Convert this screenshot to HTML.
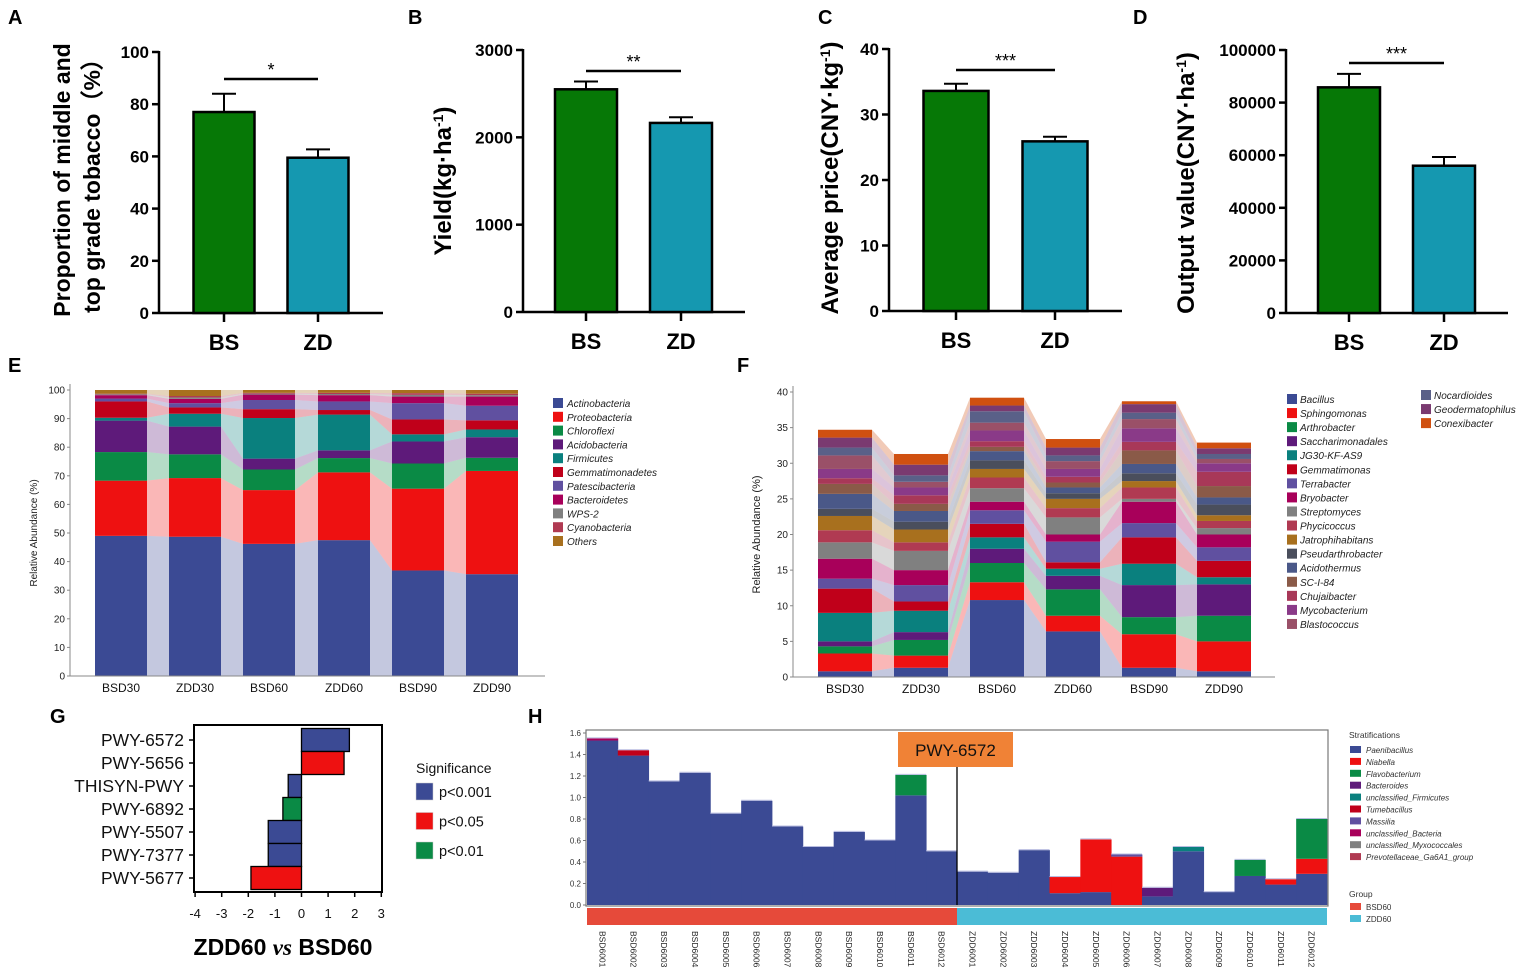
<!DOCTYPE html>
<html><head><meta charset="utf-8">
<style>
html,body{margin:0;padding:0;background:#fff;}
svg{display:block;font-family:"Liberation Sans",Arial,sans-serif;}
</style></head>
<body>
<svg id="fig" width="1535" height="974" viewBox="0 0 1535 974" xmlns="http://www.w3.org/2000/svg"></svg>
<script>
// ---------- data: panels A-D ----------
const groupsAD = ["BS","ZD"];
const valsA = [77, 59.5];   const errA = [84, 62.7];
const valsB = [2550, 2165]; const errB = [2640, 2230];
const valsC = [33.6, 25.9]; const errC = [34.7, 26.6];
const valsD = [85800, 56000]; const errD = [90900, 59300];
const ticksA = [0,20,40,60,80,100];
const ticksB = [0,1000,2000,3000];
const ticksC = [0,10,20,30,40];
const ticksD = [0,20000,40000,60000,80000,100000];
const sigA = "*", sigB = "**", sigC = "***", sigD = "***";

// ---------- data: panel E ----------
const samplesE = ["BSD30","ZDD30","BSD60","ZDD60","BSD90","ZDD90"];
const phylaE = ["Actinobacteria","Proteobacteria","Chloroflexi","Acidobacteria","Firmicutes","Gemmatimonadetes","Patescibacteria","Bacteroidetes","WPS-2","Cyanobacteria","Others"];
const ticksE = [0,10,20,30,40,50,60,70,80,90,100];
const eBSD30 = [49,19.3,10,11,1,5.7,1,1.2,0.3,0.2,1.3];
const eZDD30 = [48.7,20.5,8.3,9.7,4.5,2.2,1.5,1.5,0.5,0.5,2.1];
const eBSD60 = [46.2,18.8,7.2,3.8,14.2,3.1,3.2,1.9,0.3,0.3,1.0];
const eZDD60 = [47.5,23.7,5,2.7,12.5,1.6,3,2.2,0.4,0.4,1.0];
const eBSD90 = [36.9,28.6,8.8,7.7,2.5,5.2,5.7,2.3,0.6,0.6,1.1];
const eZDD90 = [35.6,36.1,4.6,7.2,2.7,3.2,5.1,3.2,0.5,0.5,1.3];

// ---------- data: panel F (cumulative tops per genus) ----------
const samplesF = samplesE;
const generaF = ["Bacillus","Sphingomonas","Arthrobacter","Saccharimonadales","JG30-KF-AS9","Gemmatimonas","Terrabacter","Bryobacter","Streptomyces","Phycicoccus","Jatrophihabitans","Pseudarthrobacter","Acidothermus","SC-I-84","Chujaibacter","Mycobacterium","Blastococcus","Nocardioides","Geodermatophilus","Conexibacter"];
const ticksF = [0,5,10,15,20,25,30,35,40];
const fBSD30 = [0.8,3.3,4.3,5.0,9.0,12.4,13.8,16.6,18.9,20.6,22.6,23.6,25.7,27.1,27.9,29.2,31.1,32.2,33.6,34.7];
const fZDD30 = [1.3,3.0,5.2,6.3,9.3,10.6,12.9,15.0,17.7,18.9,20.7,21.8,23.3,24.3,25.5,26.6,27.4,28.3,29.8,31.3];
const fBSD60 = [10.8,13.3,16.0,18.0,19.6,21.5,23.4,24.6,26.5,28.0,29.2,30.4,31.7,32.3,33.1,34.6,35.7,37.3,38.1,39.2];
const fZDD60 = [6.4,8.6,12.3,14.2,15.2,16.1,19.0,20.0,22.4,23.7,25.0,25.8,26.6,27.3,28.1,29.2,30.3,31.1,32.2,33.4];
const fBSD90 = [1.3,6.0,8.4,12.9,15.9,19.6,21.6,24.6,25.0,26.6,27.5,28.6,29.9,31.8,33.0,34.9,36.2,37.1,38.3,38.7];
const fZDD90 = [0.8,5.0,8.6,13.0,14.0,16.3,18.2,20.0,20.9,21.9,22.7,24.2,25.2,26.8,28.8,30.0,30.6,31.3,32.1,32.9];

// ---------- data: panel G ----------
const pathwaysG = ["PWY-6572","PWY-5656","THISYN-PWY","PWY-6892","PWY-5507","PWY-7377","PWY-5677"];
const valuesG = [1.8,1.6,-0.5,-0.7,-1.25,-1.25,-1.9];
const sigG = ["p<0.001","p<0.05","p<0.001","p<0.01","p<0.001","p<0.001","p<0.05"];
const ticksG = [-4,-3,-2,-1,0,1,2,3];
const sigLevels = ["p<0.001","p<0.05","p<0.01"];

// ---------- data: panel H ----------
const samplesH = ["BSD6001","BSD6002","BSD6003","BSD6004","BSD6005","BSD6006","BSD6007","BSD6008","BSD6009","BSD6010","BSD6011","BSD6012","ZDD6001","ZDD6002","ZDD6003","ZDD6004","ZDD6005","ZDD6006","ZDD6007","ZDD6008","ZDD6009","ZDD6010","ZDD6011","ZDD6012"];
const stratH = ["Paenibacillus","Niabella","Flavobacterium","Bacteroides","unclassified_Firmicutes","Tumebacillus","Massilia","unclassified_Bacteria","unclassified_Myxococcales","Prevotellaceae_Ga6A1_group"];
const hPaenibacillus = [1.53,1.39,1.15,1.23,0.85,0.97,0.73,0.54,0.68,0.60,1.02,0.50,0.31,0.30,0.51,0.11,0.12,0,0.08,0.50,0.12,0.27,0.19,0.29];
const hNiabella      = [0,0,0,0,0,0,0,0,0,0,0,0,0,0,0,0.15,0.49,0.45,0,0,0,0,0.05,0.14];
const hFlavobacterium= [0,0,0,0,0,0,0,0,0,0,0.19,0,0,0,0,0,0,0,0,0,0,0.15,0,0.37];
const hBacteroides   = [0,0,0,0,0,0,0,0,0,0,0,0,0,0,0,0,0,0,0.08,0,0,0,0,0];
const hUnclFirmicutes= [0,0,0,0,0,0,0,0,0,0,0,0,0,0,0,0,0,0,0,0.04,0,0,0,0];
const hTumebacillus  = [0,0.05,0,0,0,0,0,0,0,0,0,0,0,0,0,0,0,0,0,0,0,0,0,0];
const hMassilia      = [0,0,0,0,0,0,0,0,0,0,0,0,0,0,0,0,0,0.02,0,0,0,0,0,0];
const hUnclBacteria  = [0.02,0,0,0,0,0,0,0,0,0,0,0,0,0,0,0,0,0,0,0,0,0,0,0];
const ticksH = [0,0.2,0.4,0.6,0.8,1.0,1.2,1.4,1.6];

const PAL = ["#3b4a94","#ee1111","#0a8a45","#5e1a7a","#0a807e","#c0001a","#6050a0","#a8005a","#808080","#b03a52","#a8701e","#4a4e5c","#4a5888","#8a5a48","#a83858","#8a3a88","#9a5068","#5a6088","#7a3a70","#d05010"];
const PAL_E = ["#3b4a94","#ee1111","#0a8a45","#5e1a7a","#0a807e","#c0001a","#6050a0","#a8005a","#808080","#b03a52","#a8701e"];
const SIGCOL = {"p<0.001":"#3b4a94","p<0.05":"#ee1111","p<0.01":"#0a8a45"};

const NS="http://www.w3.org/2000/svg";
const fig=document.getElementById('fig');
function mk(tag,attrs,parent,text){const e=document.createElementNS(NS,tag);for(const k in attrs)e.setAttribute(k,attrs[k]);if(text!==undefined)e.textContent=text;(parent||fig).appendChild(e);return e;}
function grp(name){const g=mk('g',{});


return g;}

// panel letters
[["A",8,24],["B",408,24],["C",818,24],["D",1133,24],["E",8,372],["F",737,372],["G",50,723],["H",528,723]].forEach(l=>{
 const t=mk('text',{x:l[1],y:l[2],'font-size':20,'font-weight':'bold',fill:'#000'},fig,l[0]);
 
 
});

// ---------- A-D bar panels ----------
function barPanel(cfg){
 const g=grp(cfg.name);
 const y=v=>cfg.y0-(v/cfg.max)*(cfg.y0-cfg.yTop);
 mk('line',{x1:cfg.ax,y1:cfg.yTop-1,x2:cfg.ax,y2:cfg.y0,stroke:'#000','stroke-width':2.5},g);
 mk('line',{x1:cfg.ax,y1:cfg.y0,x2:cfg.axEnd,y2:cfg.y0,stroke:'#000','stroke-width':2.5},g);
 cfg.ticks.forEach(t=>{
  mk('line',{x1:cfg.ax-7,y1:y(t),x2:cfg.ax,y2:y(t),stroke:'#000','stroke-width':2.5},g);
  const tl=mk('text',{x:cfg.ax-10,y:y(t)+6,'text-anchor':'end','font-size':17,'font-weight':'bold'},g,String(t));
  
  
 });
 const cols=["#067806","#1598b0"];
 cfg.vals.forEach((v,i)=>{
  const cx=cfg.cx[i];
  mk('line',{x1:cx,y1:y(cfg.err[i]),x2:cx,y2:y(v),stroke:'#000','stroke-width':2},g);
  mk('line',{x1:cx-12,y1:y(cfg.err[i]),x2:cx+12,y2:y(cfg.err[i]),stroke:'#000','stroke-width':2},g);
  const r=mk('rect',{x:cx-cfg.bw/2,y:y(v),width:cfg.bw,height:cfg.y0-y(v),fill:cols[i],stroke:'#000','stroke-width':2.5},g);
  
  
  mk('line',{x1:cx,y1:cfg.y0,x2:cx,y2:cfg.y0+9,stroke:'#000','stroke-width':2.5},g);
  const xl=mk('text',{x:cx,y:cfg.y0+37,'text-anchor':'middle','font-size':22,'font-weight':'bold'},g,groupsAD[i]);
  
  
 });
 mk('line',{x1:cfg.cx[0],y1:cfg.sigY,x2:cfg.cx[1],y2:cfg.sigY,stroke:'#000','stroke-width':2.5},g);
 const st=mk('text',{x:(cfg.cx[0]+cfg.cx[1])/2,y:cfg.sigY-3,'text-anchor':'middle','font-size':18},g,cfg.sig);
 
 
 const tg=mk('g',{transform:`translate(${cfg.tx},${cfg.ty}) rotate(-90)`},g);
 cfg.title.forEach((ln,k)=>{
  const t=mk('text',{x:0,y:k*30,'text-anchor':'middle','font-size':cfg.tfs,'font-weight':'bold'},tg);
  t.innerHTML=ln;
  
  
 });
}
barPanel({name:'panel-a-chart',ax:159,axEnd:383,y0:313,yTop:52,max:100,ticks:ticksA,vals:valsA,err:errA,cx:[224,318],bw:61,sigY:79,sig:sigA,tx:70,ty:180,tfs:23,
 title:['Proportion of middle and','top grade tobacco\uFF08%\uFF09']});
barPanel({name:'panel-b-chart',ax:523,axEnd:745,y0:312,yTop:50,max:3000,ticks:ticksB,vals:valsB,err:errB,cx:[586,681],bw:62,sigY:71,sig:sigB,tx:451,ty:181,tfs:24,
 title:['Yield(kg·ha<tspan baseline-shift="super" font-size="14">-1</tspan>)']});
barPanel({name:'panel-c-chart',ax:889,axEnd:1122,y0:311,yTop:49,max:40,ticks:ticksC,vals:valsC,err:errC,cx:[956,1055],bw:65,sigY:70,sig:sigC,tx:838,ty:178,tfs:24,
 title:['Average price(CNY·kg<tspan baseline-shift="super" font-size="14">-1</tspan>)']});
barPanel({name:'panel-d-chart',ax:1286,axEnd:1508,y0:313,yTop:50,max:100000,ticks:ticksD,vals:valsD,err:errD,cx:[1349,1444],bw:62,sigY:63,sig:sigD,tx:1194,ty:183,tfs:24,
 title:['Output value(CNY·ha<tspan baseline-shift="super" font-size="14">-1</tspan>)']});

// ---------- stacked chart helper (E, F) ----------
function stacked(cfg){
 const g=grp(cfg.name);
 const y=v=>cfg.y0-(v/cfg.max)*(cfg.y0-cfg.yTop);
 const n=cfg.samples.length;
 for(let i=0;i<n-1;i++){
  const a=cfg.tops[i], b=cfg.tops[i+1];
  const xr=cfg.bx[i]+cfg.bw, xl=cfg.bx[i+1];
  for(let k=0;k<a.length;k++){
   const a0=k?a[k-1]:0,b0=k?b[k-1]:0;
   mk('polygon',{points:`${xr},${y(a0)} ${xr},${y(a[k])} ${xl},${y(b[k])} ${xl},${y(b0)}`,fill:cfg.pal[k],'fill-opacity':0.3},g);
  }
 }
 for(let i=0;i<n;i++){
  const bg=mk('g',{},g);
  
  
  const a=cfg.tops[i];
  for(let k=0;k<a.length;k++){
   const a0=k?a[k-1]:0;
   mk('rect',{x:cfg.bx[i],y:y(a[k]),width:cfg.bw,height:Math.max(0,y(a0)-y(a[k])),fill:cfg.pal[k]},bg);
  }
  const t=mk('text',{x:cfg.bx[i]+cfg.bw/2,y:cfg.y0+16,'text-anchor':'middle','font-size':12,fill:'#111'},g,cfg.samples[i]);
  
  
 }
 mk('line',{x1:cfg.ax,y1:cfg.yTop-6,x2:cfg.ax,y2:cfg.y0,stroke:'#888','stroke-width':1},g);
 mk('line',{x1:cfg.ax,y1:cfg.y0,x2:cfg.axEnd,y2:cfg.y0,stroke:'#888','stroke-width':1},g);
 cfg.ticks.forEach(t=>{
  mk('line',{x1:cfg.ax-3,y1:y(t),x2:cfg.ax,y2:y(t),stroke:'#888'},g);
  const tl=mk('text',{x:cfg.ax-5,y:y(t)+3.5,'text-anchor':'end','font-size':10,fill:'#222'},g,String(t));
  
  
 });
 const yt=mk('text',{transform:`translate(${cfg.tx},${(cfg.y0+cfg.yTop)/2}) rotate(-90)`,'text-anchor':'middle','font-size':cfg.tfs,fill:'#222'},g,'Relative Abundance (%)');
 
 
}
function cum(arr){let s=0;return arr.map(v=>s+=v);}
stacked({name:'panel-e-chart',samples:samplesE,tops:[eBSD30,eZDD30,eBSD60,eZDD60,eBSD90,eZDD90].map(cum),pal:PAL_E,
 y0:676,yTop:390,max:100,ticks:ticksE,bx:[95,169,243,318,392,466],bw:52,ax:70,axEnd:545,tx:37,tfs:10});
stacked({name:'panel-f-chart',samples:samplesF,tops:[fBSD30,fZDD30,fBSD60,fZDD60,fBSD90,fZDD90],pal:PAL,
 y0:677,yTop:392,max:40,ticks:ticksF,bx:[818,894,970,1046,1122,1197],bw:54,ax:793,axEnd:1275,tx:760,tfs:11});

// legends E, F
(function(){
 const g=grp('legend-e');
 phylaE.forEach((p,i)=>{
  const yy=398+i*13.8;
  const e=mk('g',{},g);
  
  
  mk('rect',{x:553,y:yy,width:10,height:10,fill:PAL_E[i]},e);
  mk('text',{x:567,y:yy+9,'font-size':10,'font-style':'italic',fill:'#222'},e,p);
 });
 const g2=grp('legend-f');
 generaF.forEach((p,i)=>{
  let xx,yy;
  if(i<17){xx=1287;yy=394+i*14.06;}else{xx=1421;yy=390+(i-17)*14.06;}
  const e=mk('g',{},g2);
  
  
  mk('rect',{x:xx,y:yy,width:10,height:10,fill:PAL[i]},e);
  mk('text',{x:xx+13,y:yy+9,'font-size':10,'font-style':'italic',fill:'#222'},e,p);
 });
})();

// ---------- panel G ----------
(function(){
 const g=grp('panel-g-chart');
 const x=v=>301.5+v*26.6;
 const rowY=i=>740+i*23;
 mk('rect',{x:194,y:725,width:188,height:167,fill:'none',stroke:'#000','stroke-width':2},g);
 pathwaysG.forEach((p,i)=>{
  const v=valuesG[i];
  const r=mk('rect',{x:Math.min(x(0),x(v)),y:rowY(i)-11.5,width:Math.abs(x(v)-x(0)),height:23,fill:SIGCOL[sigG[i]],stroke:'#000','stroke-width':1.3},g);
  
  
  mk('line',{x1:189,y1:rowY(i),x2:194,y2:rowY(i),stroke:'#000','stroke-width':1.5},g);
  const t=mk('text',{x:184,y:rowY(i)+6,'text-anchor':'end','font-size':17.5,fill:'#111'},g,p);
  
  
 });
 ticksG.forEach(t=>{
  mk('line',{x1:x(t),y1:892,x2:x(t),y2:897,stroke:'#000','stroke-width':1.5},g);
  const tl=mk('text',{x:x(t),y:918,'text-anchor':'middle','font-size':13,fill:'#111'},g,String(t));
  
  
 });
 const tt=mk('text',{x:283,y:955,'text-anchor':'middle','font-size':23,'font-weight':'bold'},g);
 tt.innerHTML='ZDD60 <tspan font-family="Liberation Serif,serif" font-style="italic">vs</tspan> BSD60';
 
 
 const lg=grp('legend-g');
 const lt=mk('text',{x:416,y:773,'font-size':14,fill:'#111'},lg,'Significance');
 
 
 sigLevels.forEach((s,i)=>{
  const yy=783+i*29.5;
  const e=mk('g',{},lg);
  
  
  mk('rect',{x:416,y:yy,width:17,height:17,fill:SIGCOL[s],stroke:'#ccc','stroke-width':0.5},e);
  mk('text',{x:439,y:yy+14,'font-size':14.5,fill:'#111'},e,s);
 });
})();

// ---------- panel H ----------
(function(){
 const g=grp('panel-h-chart');
 const L=587,R=1327,y0=905,pxPer=(905-733)/1.6;
 const y=v=>y0-v*pxPer;
 const n=samplesH.length, bw=(R-L)/n;
 const layers=[hPaenibacillus,hNiabella,hFlavobacterium,hBacteroides,hUnclFirmicutes,hTumebacillus,hMassilia,hUnclBacteria];
 const layerCols=["#3b4a94","#ee1111","#0a8a45","#5e1a7a","#0a807e","#c0001a","#6050a0","#a8005a"];
 for(let i=0;i<n;i++){
  const bg=mk('g',{},g);
  
  
  let s=0;
  layers.forEach((arr,k)=>{
   const v=arr[i]; if(v<=0) return;
   mk('rect',{x:L+i*bw,y:y(s+v),width:bw+0.4,height:v*pxPer,fill:layerCols[k]},bg);
   s+=v;
  });
  mk('line',{x1:L+i*bw,y1:y(s)-0.5,x2:L+(i+1)*bw,y2:y(s)-0.5,stroke:'#b8bce0','stroke-width':1},bg);
  const gx=L+i*bw+bw/2;
  const t=mk('text',{transform:`translate(${gx-3},931) rotate(90)`,'font-size':8.5,fill:'#222'},g,samplesH[i]);
  
  
 }
 mk('rect',{x:L-1,y:730,width:R-L+2,height:y0-730+1,fill:'none',stroke:'#777','stroke-width':1.2},g);
 ticksH.forEach(t=>{
  mk('line',{x1:L-4,y1:y(t),x2:L-1,y2:y(t),stroke:'#777'},g);
  const tl=mk('text',{x:L-6,y:y(t)+3,'text-anchor':'end','font-size':8,fill:'#333'},g,t.toFixed(1));
  
  
 });
 const split=L+12*bw;
 mk('line',{x1:split,y1:767,x2:split,y2:y0,stroke:'#000','stroke-width':1.3},g);
 const gb1=mk('rect',{x:L,y:908,width:split-L,height:17,fill:'#e64a3a'},g);
 
 
 const gb2=mk('rect',{x:split,y:908,width:R-split,height:17,fill:'#4bbcd6'},g);
 
 
 const bx=mk('rect',{x:898,y:732,width:115,height:35,fill:'#f08236'},g);
 
 
 const bt=mk('text',{x:955.5,y:756,'text-anchor':'middle','font-size':17,fill:'#111'},g,'PWY-6572');
 
 
 const lg=grp('legend-h');
 const t1=mk('text',{x:1349,y:738,'font-size':8.5,fill:'#333'},lg,'Stratifications');
 
 
 stratH.forEach((s,i)=>{
  const yy=746+i*11.9;
  const e=mk('g',{},lg);
  
  
  mk('rect',{x:1350,y:yy,width:11,height:7,fill:PAL[i]},e);
  mk('text',{x:1366,y:yy+7,'font-size':8,'font-style':'italic',fill:'#333'},e,s);
 });
 const t2=mk('text',{x:1349,y:897,'font-size':8.5,fill:'#333'},lg,'Group');
 
 
 [["BSD60","#e64a3a"],["ZDD60","#4bbcd6"]].forEach((s,i)=>{
  const yy=903+i*12;
  const e=mk('g',{},lg);
  
  
  mk('rect',{x:1350,y:yy,width:11,height:7,fill:s[1]},e);
  mk('text',{x:1366,y:yy+7,'font-size':8,fill:'#333'},e,s[0]);
 });
})();
</script>
</body></html>
